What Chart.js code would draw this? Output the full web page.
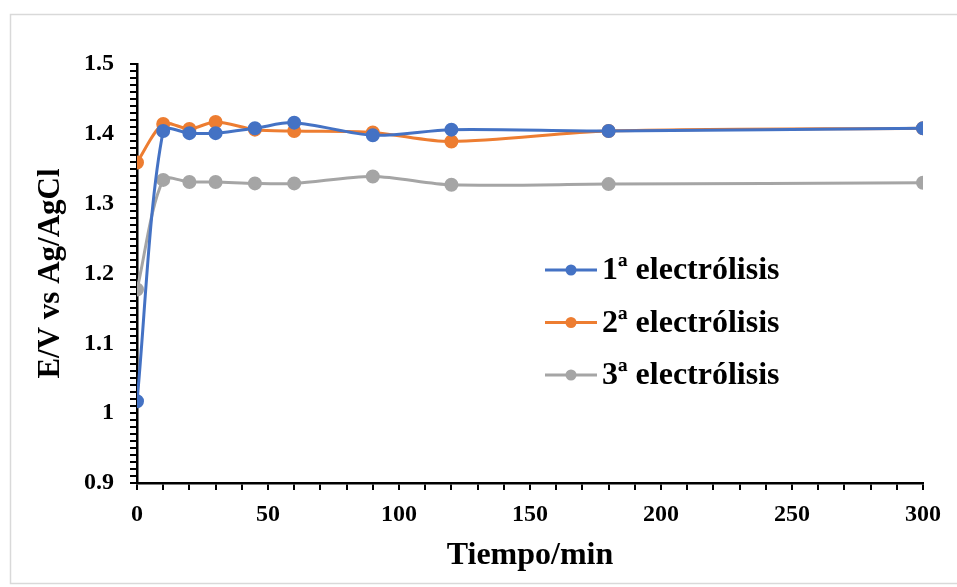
<!DOCTYPE html>
<html>
<head>
<meta charset="utf-8">
<script src="https://cdn.jsdelivr.net/npm/chart.js@4"></script>
<style>
html, body { margin: 0; padding: 0; background: #fff; }
#wrap { width: 957px; height: 587px; position: relative; }
</style>
</head>
<body>
<div id="wrap"><canvas id="myChart"></canvas></div>
<script>
// tiempo (min)
var tiempo = [0, 10, 20, 30, 45, 60, 90, 120, 180, 300];
var serie1 = [1.017, 1.404, 1.401, 1.401, 1.408, 1.416, 1.398, 1.406, 1.404, 1.408];
var serie2 = [1.359, 1.414, 1.407, 1.417, 1.406, 1.404, 1.402, 1.389, 1.404, 1.408];
var serie3 = [1.177, 1.334, 1.331, 1.331, 1.329, 1.329, 1.339, 1.327, 1.328, 1.330];
var nombres = ["1ª electrólisis", "2ª electrólisis", "3ª electrólisis"];
var colores = ["#4472C4", "#ED7D31", "#A5A5A5"];

function puntos(ys) {
    var out = [];
    for (var i = 0; i < tiempo.length; i++) {
        out.push({x: tiempo[i], y: ys[i]});
    }
    return out;
}

var fuente = "'Liberation Serif', 'Times New Roman', serif";

function serie(n, ys) {
    return {
        label: nombres[n],
        data: puntos(ys),
        borderColor: colores[n],
        backgroundColor: colores[n],
        borderWidth: 3,
        pointRadius: 5.5,
        pointHoverRadius: 5.5,
        tension: 0.3,
        fill: false
    };
}

// marco gris claro y leyenda dentro del area
var fondo = {
    id: "fondo",
    beforeDraw: function(chart) {
        var c = chart.ctx;
        c.save();
        c.fillStyle = "#fff";
        c.fillRect(0, 0, chart.width, chart.height);
        c.strokeStyle = "#d9d9d9";
        c.lineWidth = 1.5;
        c.strokeRect(10.5, 14.5, chart.width + 20, chart.height - 18);
        c.restore();
    },
    afterDraw: function(chart) {
        var c = chart.ctx;
        c.save();
        var x0 = 545, y0 = 270;
        chart.data.datasets.forEach(function(ds, i) {
            var y = y0 + i * 52.5;
            c.strokeStyle = ds.borderColor;
            c.lineWidth = 3;
            c.beginPath();
            c.moveTo(x0, y);
            c.lineTo(x0 + 52, y);
            c.stroke();
            c.fillStyle = ds.borderColor;
            c.beginPath();
            c.arc(x0 + 26, y, 5.5, 0, Math.PI * 2);
            c.fill();
            c.fillStyle = "#000";
            c.font = "bold 32px " + fuente;
            c.textBaseline = "middle";
            c.fillText(ds.label, x0 + 57, y + 1);
        });
        c.restore();
    }
};

new Chart("myChart", {
    type: "line",
    data: {
        datasets: [serie(0, serie1), serie(1, serie2), serie(2, serie3)]
    },
    options: {
        responsive: true,
        maintainAspectRatio: false,
        animation: false,
        layout: { padding: { top: 64, right: 34, left: 0, bottom: 0 } },
        plugins: {
            legend: { display: false },
            tooltip: { enabled: false }
        },
        scales: {
            x: {
                type: "linear",
                min: 0,
                max: 300,
                afterFit: function(s) { s.height = 104; },
                border: { color: "#000", width: 2.5 },
                grid: { drawOnChartArea: false, color: "#000", tickLength: 7, lineWidth: 2 },
                ticks: {
                    stepSize: 10,
                    autoSkip: false,
                    maxRotation: 0,
                    color: "#000",
                    padding: 10,
                    font: { family: fuente, size: 24, weight: "bold" },
                    callback: function(v) { return v % 50 === 0 ? String(v) : ""; }
                },
                title: {
                    display: true,
                    text: "Tiempo/min",
                    color: "#000",
                    padding: { top: 0, bottom: 12 },
                    font: { family: fuente, size: 32, weight: "bold" }
                }
            },
            y: {
                min: 0.9,
                max: 1.5,
                afterFit: function(s) { s.width = 137; },
                border: { color: "#000", width: 2.5 },
                grid: { drawOnChartArea: false, color: "#000", tickLength: 7, lineWidth: 2 },
                ticks: {
                    stepSize: 0.01,
                    autoSkip: false,
                    color: "#000",
                    padding: 16,
                    font: { family: fuente, size: 24, weight: "bold" },
                    callback: function(v) {
                        var k = Math.round(v * 100);
                        return k % 10 === 0 ? String(k / 100) : "";
                    }
                },
                title: {
                    display: true,
                    text: "E/V vs Ag/AgCl",
                    color: "#000",
                    padding: { top: 32, bottom: 0 },
                    font: { family: fuente, size: 31, weight: "bold" }
                }
            }
        }
    },
    plugins: [fondo]
});
</script>
</body>
</html>
